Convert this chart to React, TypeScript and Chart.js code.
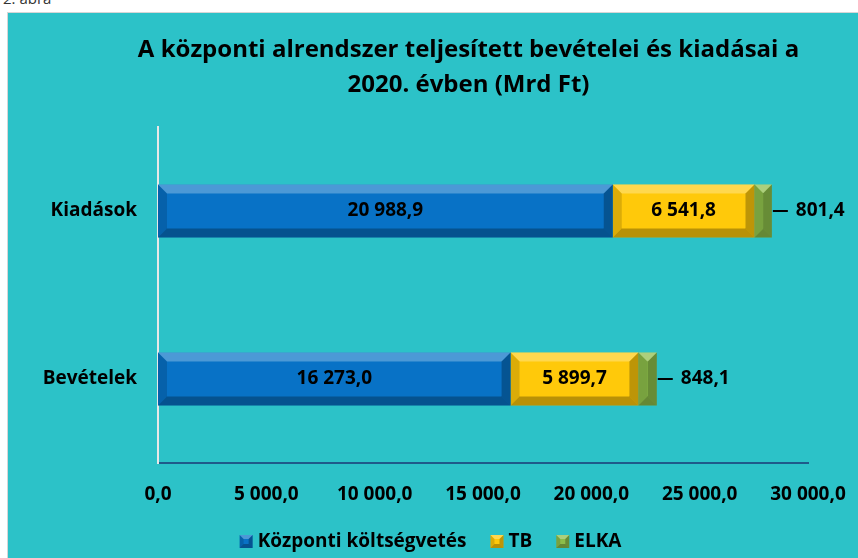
import React, { useEffect, useRef } from "react";
import { Chart, registerables } from "chart.js";

Chart.register(...registerables);

const categories = ["Kiadások", "Bevételek"];
const seriesNames = ["Központi költségvetés", "TB", "ELKA"];
const kozponti = [20988.9, 16273.0];
const tb = [6541.8, 5899.7];
const elka = [801.4, 848.1];
const titleLines = [
  "A központi alrendszer teljesített bevételei és kiadásai a",
  "2020. évben (Mrd Ft)",
];
const xMin = 0;
const xMax = 30000;
const xStep = 5000;

const COLORS = ["#0872c6", "#ffc90a", "#8cbd4a"];
const FONT = "'Open Sans', sans-serif";

function fmt(v: number): string {
  const neg = v < 0;
  const s = Math.abs(v).toFixed(1);
  const [i, d] = s.split(".");
  const withSep = i.replace(/\B(?=(\d{3})+(?!\d))/g, " ");
  return (neg ? "-" : "") + withSep + "," + d;
}

function bevel(ctx: CanvasRenderingContext2D, l: number, t: number, r: number, b: number, size: number) {
  const w = r - l;
  const h = b - t;
  const s = Math.min(size, w / 2, h / 2);
  const poly = (pts: number[][], fill: string) => {
    ctx.beginPath();
    ctx.moveTo(pts[0][0], pts[0][1]);
    for (let k = 1; k < pts.length; k++) ctx.lineTo(pts[k][0], pts[k][1]);
    ctx.closePath();
    ctx.fillStyle = fill;
    ctx.fill();
  };
  poly([[l, t], [r, t], [r - s, t + s], [l + s, t + s]], "rgba(255,255,255,0.28)");
  poly([[l, b], [r, b], [r - s, b - s], [l + s, b - s]], "rgba(0,0,0,0.28)");
  poly([[l, t], [l + s, t + s], [l + s, b - s], [l, b]], "rgba(0,0,0,0.14)");
  poly([[r, t], [r - s, t + s], [r - s, b - s], [r, b]], "rgba(0,0,0,0.26)");
}

const customPlugin = {
  id: "custom",
  afterDatasetsDraw(chart: any) {
    const ctx: CanvasRenderingContext2D = chart.ctx;
    ctx.save();
    chart.data.datasets.forEach((ds: any, di: number) => {
      const meta = chart.getDatasetMeta(di);
      meta.data.forEach((el: any, i: number) => {
        const p = el.getProps(["x", "y", "base", "height"], true);
        const l = Math.min(p.base, p.x);
        const r = Math.max(p.base, p.x);
        const t = p.y - p.height / 2;
        const b = p.y + p.height / 2;
        bevel(ctx, l, t, r, b, 9);
        ctx.fillStyle = "#000";
        ctx.font = `bold 19px ${FONT}`;
        ctx.textBaseline = "middle";
        const val = ds.data[i];
        if (di < 2) {
          ctx.textAlign = "center";
          ctx.fillText(fmt(val), (l + r) / 2, p.y);
        } else {
          ctx.strokeStyle = "#000";
          ctx.lineWidth = 2;
          ctx.beginPath();
          ctx.moveTo(r + 1, p.y);
          ctx.lineTo(r + 16, p.y);
          ctx.stroke();
          ctx.textAlign = "left";
          ctx.fillText(fmt(val), r + 24, p.y);
        }
      });
    });
    ctx.restore();
  },
  afterDraw(chart: any) {
    const ctx: CanvasRenderingContext2D = chart.ctx;
    ctx.save();
    // title
    ctx.fillStyle = "#000";
    ctx.font = `bold 24px ${FONT}`;
    ctx.textAlign = "center";
    ctx.textBaseline = "alphabetic";
    const baselines = [44, 79];
    titleLines.forEach((line, i) => {
      ctx.fillText(line, 460.5, baselines[i]);
    });
    // legend
    ctx.font = `bold 19px ${FONT}`;
    const box = 13;
    const gapBoxText = 5;
    const gapItems = 24;
    const widths = seriesNames.map((n) => box + gapBoxText + ctx.measureText(n).width);
    const total = widths.reduce((a, b) => a + b, 0) + gapItems * (seriesNames.length - 1);
    let x = chart.width / 2 - total / 2 - 2.5;
    const y = 528.5;
    seriesNames.forEach((n, i) => {
      ctx.fillStyle = COLORS[i];
      ctx.fillRect(x, y - box / 2, box, box);
      bevel(ctx, x, y - box / 2, x + box, y + box / 2, 4);
      ctx.fillStyle = "#000";
      ctx.textAlign = "left";
      ctx.textBaseline = "middle";
      ctx.fillText(n, x + box + gapBoxText, y);
      x += widths[i] + gapItems;
    });
    ctx.restore();
  },
};

function ChartCanvas() {
  const ref = useRef<HTMLCanvasElement>(null);
  useEffect(() => {
    if (!ref.current) return;
    const chart = new Chart(ref.current, {
      type: "bar",
      data: {
        labels: categories,
        datasets: [
          { label: seriesNames[0], data: kozponti, backgroundColor: COLORS[0] },
          { label: seriesNames[1], data: tb, backgroundColor: COLORS[1] },
          { label: seriesNames[2], data: elka, backgroundColor: COLORS[2] },
        ],
      },
      options: {
        indexAxis: "y",
        responsive: false,
        animation: false,
        devicePixelRatio: 1,
        layout: { padding: { top: 114, right: 50, bottom: 45, left: 0 } },
        datasets: { bar: { categoryPercentage: 1, barPercentage: 0.315, borderWidth: 0 } },
        plugins: {
          legend: { display: false },
          title: { display: false },
          tooltip: { enabled: false },
        },
        scales: {
          x: {
            stacked: true,
            min: xMin,
            max: xMax,
            afterFit: (s: any) => {
              s.height = 50;
              s.paddingRight = 0;
              s.paddingLeft = 0;
            },
            afterBuildTicks: (s: any) => {
              const t = [];
              for (let v = xMin; v <= xMax; v += xStep) t.push({ value: v });
              s.ticks = t;
            },
            grid: { display: false, drawTicks: false },
            border: { display: true, color: "#1f5a8a", width: 2 },
            ticks: {
              padding: 20,
              color: "#000",
              font: { family: FONT, size: 19, weight: "bold" },
              maxRotation: 0,
              autoSkip: false,
              callback: (v: any) => fmt(Number(v)),
            },
          },
          y: {
            stacked: true,
            afterFit: (s: any) => {
              s.width = 150;
            },
            grid: { display: false, drawTicks: false },
            border: { display: true, color: "#e8e8e8", width: 2 },
            ticks: {
              padding: 21,
              color: "#000",
              font: { family: FONT, size: 19, weight: "bold" },
            },
          },
        },
      },
      plugins: [customPlugin],
    } as any);
    return () => chart.destroy();
  }, []);
  return <canvas ref={ref} width={850} height={545} style={{ display: "block", width: 850, height: 545 }} />;
}

export default function App() {
  useEffect(() => {
    document.body.style.margin = "0";
  }, []);
  return (
    <div style={{ position: "relative", width: 858, height: 558, overflow: "hidden", background: "#fff" }}>
      <div
        style={{
          position: "absolute",
          left: 3,
          top: -9,
          fontFamily: FONT,
          fontSize: 15,
          lineHeight: "15px",
          color: "#333",
        }}
      >
        2. ábra
      </div>
      <div
        style={{
          position: "absolute",
          left: 7,
          top: 12,
          width: 860,
          height: 560,
          border: "1px solid #d6d6d6",
          background: "#2cc2c8",
        }}
      >
        <ChartCanvas />
      </div>
    </div>
  );
}
